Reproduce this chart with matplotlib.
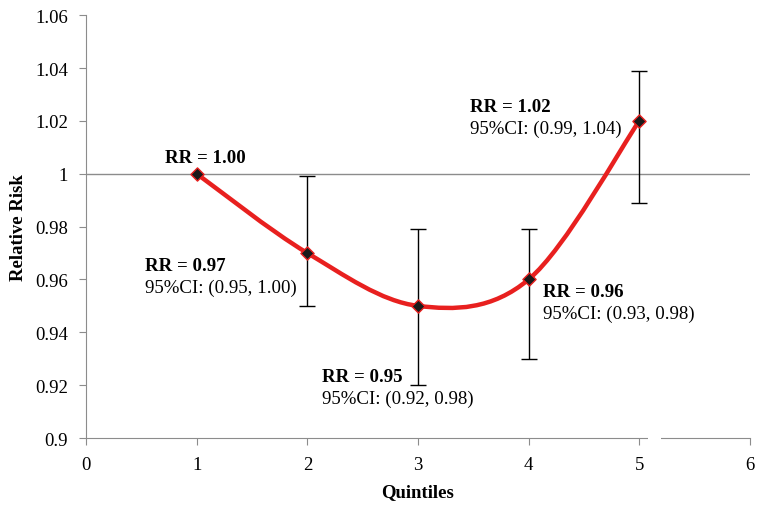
import matplotlib
matplotlib.use("Agg")
import matplotlib.pyplot as plt
from matplotlib.path import Path
from matplotlib.patches import PathPatch, Rectangle

plt.rcParams['font.family'] = ['Liberation Serif', 'DejaVu Serif']

quintiles = [1, 2, 3, 4, 5]
rr = [1.00, 0.97, 0.95, 0.96, 1.02]
ci_low = [1.00, 0.95, 0.92, 0.93, 0.989]
ci_high = [1.00, 0.999, 0.979, 0.979, 1.039]
rr_labels = ["RR = 1.00", "RR = 0.97", "RR = 0.95", "RR = 0.96", "RR = 1.02"]
ci_labels = [None, "95%CI: (0.95, 1.00)", "95%CI: (0.92, 0.98)",
             "95%CI: (0.93, 0.98)", "95%CI: (0.99, 1.04)"]
label_pos = [(0.71, 1.0063), (0.53, 0.9654), (2.13, 0.9234), (4.13, 0.9556), (3.47, 1.0256)]

fig = plt.figure(figsize=(7.61, 5.06), dpi=100)
ax = fig.add_axes([0.113, 0.1324, 0.8725, 0.8356])

ax.axhline(1.0, color="#8c8c8c", lw=1, zorder=1)

# error bars (first point has none)
for x, y, lo, hi in zip(quintiles[1:], rr[1:], ci_low[1:], ci_high[1:]):
    ax.errorbar(x, y, yerr=[[y - lo], [hi - y]], fmt="none", ecolor="black",
                elinewidth=1, capsize=6, capthick=1, zorder=2)

# smoothed line like Excel (cubic bezier, catmull-rom style)
n = len(quintiles)
verts = [(quintiles[0], rr[0])]
codes = [Path.MOVETO]
for i in range(n - 1):
    p0 = (quintiles[max(i - 1, 0)], rr[max(i - 1, 0)])
    p1 = (quintiles[i], rr[i])
    p2 = (quintiles[i + 1], rr[i + 1])
    p3 = (quintiles[min(i + 2, n - 1)], rr[min(i + 2, n - 1)])
    c1 = (p1[0] + (p2[0] - p0[0]) / 6, p1[1] + (p2[1] - p0[1]) / 6)
    c2 = (p2[0] - (p3[0] - p1[0]) / 6, p2[1] - (p3[1] - p1[1]) / 6)
    verts += [c1, c2, p2]
    codes += [Path.CURVE4] * 3
ax.add_patch(PathPatch(Path(verts, codes), fill=False, edgecolor="#e8201f",
                       lw=3.2, zorder=3, capstyle="round"))

ax.scatter(quintiles, rr, marker="D", s=45, facecolor="#1a1a1a",
           edgecolor="#e8201f", linewidth=1, zorder=4)

for (tx, ty), r, c in zip(label_pos, rr_labels, ci_labels):
    ax.text(tx, ty, r, fontsize=13.6, fontweight="bold", va="center", ha="left")
    if c:
        ax.text(tx, ty - 0.0084, c, fontsize=13.6, va="center", ha="left")

ax.set_xlim(0, 6)
ax.set_ylim(0.9, 1.06)
ax.set_xticks(range(0, 7))
ax.set_yticks([0.9, 0.92, 0.94, 0.96, 0.98, 1.0, 1.02, 1.04, 1.06])
ax.set_yticklabels(["0.9", "0.92", "0.94", "0.96", "0.98", "1", "1.02", "1.04", "1.06"])
ax.tick_params(direction="out", length=5, color="#8c8c8c", labelsize=13.5, pad=8)
for s in ["top", "right"]:
    ax.spines[s].set_visible(False)
for s in ["left", "bottom"]:
    ax.spines[s].set_color("#8c8c8c")

# small break in the x axis line
ax.add_patch(Rectangle((5.08, 0.8985), 0.12, 0.003, facecolor="white",
                       edgecolor="none", clip_on=False, zorder=5))

ax.set_xlabel("Quintiles", fontsize=13.5, fontweight="bold", labelpad=7)
ax.set_ylabel("Relative Risk", fontsize=13.5, fontweight="bold", labelpad=6)

fig.savefig("out.png", dpi=100)
